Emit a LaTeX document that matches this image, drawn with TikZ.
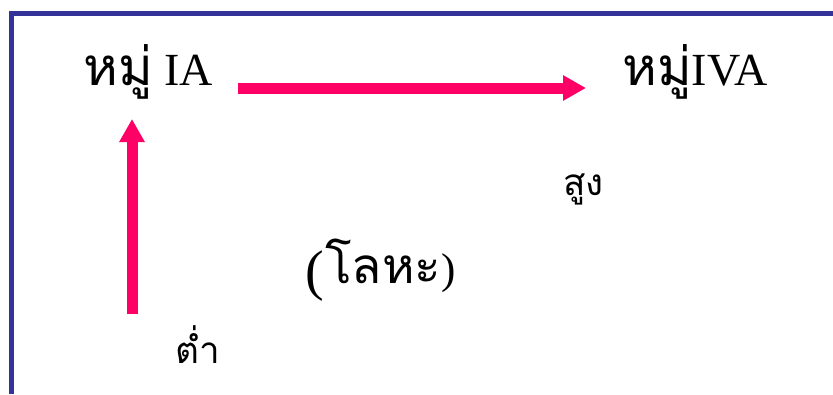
\documentclass[tikz,border=0pt]{standalone}
\usepackage{fontspec}
\setmainfont{Liberation Serif}
\newfontfamily\thaifont[Script=Thai,Scale=1.15]{Loma}
\usetikzlibrary{arrows.meta}
\definecolor{arrowpink}{RGB}{255,0,102}
\definecolor{borderblue}{RGB}{51,51,153}

\begin{document}
\begin{tikzpicture}[x=1pt,y=-1pt,
    lbl/.style={anchor=base west,inner sep=0pt,font=\fontsize{46}{54}\selectfont},
    small/.style={anchor=base west,inner sep=0pt,font=\fontsize{32}{38}\selectfont},
    pinkarrow/.style={draw=arrowpink,line width=11pt,
      -{Triangle[length=23pt 0,width=24pt 0]}}]
  \useasboundingbox (0,0) rectangle (833,394);
  \draw[borderblue,line width=5pt] (11.5,394) -- (11.5,13.5) -- (833,13.5);

  \draw (83,85) node[lbl] (IA) {{\thaifont หมู่} IA};
  \draw (622,85) node[lbl] (IVA) {{\thaifont หมู่}IVA};
  \draw (563,195) node[small] (high) {\thaifont สูง};
  \draw (175,363) node[small] (low) {\thaifont ต่ำ};
  \draw (305,289) node[anchor=base west,inner sep=0pt,
    font=\fontsize{56}{62}\selectfont] (paren) {(};
  \draw (paren.base east) node[small,font=\fontsize{43}{50}\selectfont,
    xshift=1pt,yshift=6pt] (metal) {{\thaifont โลหะ})};

  \coordinate (hstart) at (238,88);
  \coordinate (hend) at (586,88);
  \coordinate (vstart) at (132,314);
  \coordinate (vend) at (132,119);
  \draw[pinkarrow] (hstart) -- (hend);
  \draw[pinkarrow] (vstart) -- (vend);
\end{tikzpicture}
\end{document}
